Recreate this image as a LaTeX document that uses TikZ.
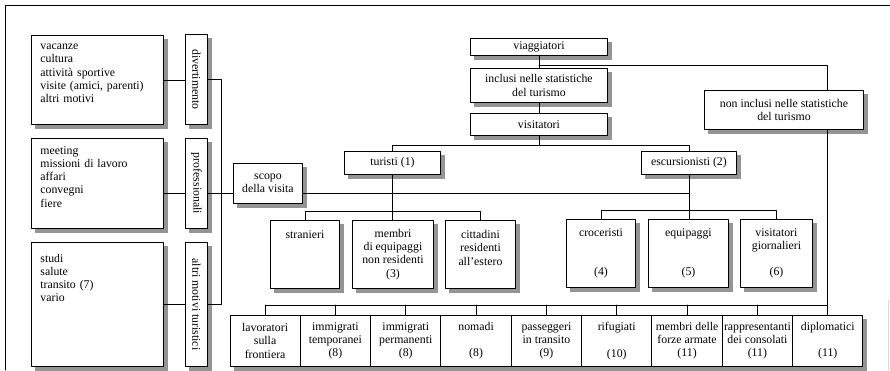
\documentclass[tikz,border=0pt]{standalone}
\usepackage{fontspec}
\setmainfont{Liberation Serif}
\usetikzlibrary{backgrounds}

\begin{document}
\begin{tikzpicture}[x=1pt, y=-1pt, line join=round, line cap=round,
	font=\fontsize{11.8}{13.2}\selectfont,
	box/.style={draw, line width=0.9pt, fill=white, inner sep=0pt, align=center},
	motivo/.style={box, align=left, text width=114pt, inner xsep=9pt, anchor=north west},
	verticale/.style={box, minimum width=22, anchor=north west},
	figlio/.style={box, minimum height=68, anchor=north west},
	link/.style={line width=0.6pt},
	ombra/.style={fill=black!42}]
	\useasboundingbox (0,0) rectangle (890,370);
	\draw[line width=0.8pt] (890,5) -- (5,5) -- (5,370);
	\draw[gray!30] (888,300) -- (888,370);
	
	% motivi della visita
	\node[motivo, minimum height=89] (mdiv) at (31,35) {vacanze\\cultura\\attività sportive\\visite (amici, parenti)\\altri motivi\\~};
	\node[motivo, minimum height=90] (mprof) at (31,138) {meeting\\missioni di lavoro\\affari\\convegni\\fiere\\~};
	\node[motivo, minimum height=124] (maltri) at (31,242) {studi\\salute\\transito (7)\\vario\\~\\~\\~\\~};
	\node[verticale, minimum height=90] (div) at (185,34) {\rotatebox{-90}{divertimento}};
	\node[verticale, minimum height=90] (prof) at (185,138) {\rotatebox{-90}{professionali}};
	\node[verticale, minimum height=124] (altri) at (185,242) {\rotatebox{-90}{altri motivi turistici}};
	\node[box, minimum width=69, minimum height=40, anchor=north west] (scopo) at (233,163) {scopo\\della visita};
	
	% classificazione
	\node[box, minimum width=137, minimum height=17, anchor=north west] (viagg) at (470,38) {viaggiatori};
	\node[box, minimum width=137, minimum height=34, anchor=north west] (incl) at (470,68) {inclusi nelle statistiche\\del turismo};
	\node[box, minimum width=137, minimum height=22, anchor=north west] (visit) at (470,113) {visitatori};
	\node[box, minimum width=159, minimum height=39, anchor=north west] (noninc) at (704,90) {non inclusi nelle statistiche\\del turismo};
	\node[box, minimum width=96, minimum height=23, anchor=north west] (tur) at (344,151) {turisti (1)};
	\node[box, minimum width=95, minimum height=23, anchor=north west] (esc) at (641,151) {escursionisti (2)};
	
	\node[figlio, minimum width=69] (stra) at (270,220) {stranieri\\~\\~\\~};
	\node[figlio, minimum width=81] (memb) at (352,220) {membri\\di equipaggi\\non residenti\\(3)};
	\node[figlio, minimum width=70] (citt) at (445,220) {cittadini\\residenti\\all’estero\\~};
	\node[figlio, minimum width=69] (croc) at (566,219) {croceristi\\~\\~\\(4)};
	\node[figlio, minimum width=80] (equi) at (648,219) {equipaggi\\~\\~\\(5)};
	\node[figlio, minimum width=72] (vgio) at (740,219) {visitatori\\giornalieri\\~\\(6)};
	
	\foreach \nome/\testo [count=\i from 0] in {lavor/{lavoratori\\sulla\\frontiera}, immtemp/{immigrati\\temporanei\\(8)}, immperm/{immigrati\\permanenti\\(8)}, nomadi/{nomadi\\~\\(8)}, pass/{passeggeri\\in transito\\(9)}, rifug/{rifugiati\\~\\(10)}, forze/{membri delle\\forze armate\\(11)}, cons/{rappresentanti\\dei consolati\\(11)}, diplo/{diplomatici\\~\\(11)}}{
		\node[box, minimum width=70.3, minimum height=51, anchor=north west] (\nome) at ({229.5+70.33*\i},315) {\testo};
	}
	
	% ombre
	\begin{scope}[on background layer]
		\foreach \nome in {mdiv,mprof,maltri,div,prof,altri,scopo,viagg,incl,visit,noninc,tur,esc,stra,memb,citt,croc,equi,vgio,lavor,immtemp,immperm,nomadi,pass,rifug,forze,cons,diplo}
			\fill[ombra] ([shift={(4pt,-4pt)}]\nome.south west) rectangle ([shift={(4pt,-4pt)}]\nome.north east);
	\end{scope}
	
	% collegamenti a sinistra
	\draw[link] (mdiv.east) -- (mdiv.east -| div.west);
	\draw[link] (maltri.east) -- (maltri.east -| altri.west);
	\draw[link] (div.east) -- ++(13,0) |- (altri.east);
	\path ([yshift=-10pt]mprof.east) coordinate (mp);
	\path ([yshift=-10pt]scopo.east) coordinate (sc);
	\draw[link] (mp) -- (mp -| prof.west);
	\draw[link] (sc -| prof.east) -- (sc -| scopo.west);
	
	% collegamenti dell'albero
	\draw[link] (viagg.south) -- (incl.north);
	\draw[link] (incl.south) -- (visit.north);
	\path (viagg.south) ++(0,9) coordinate (ramo);
	\draw[link] (ramo) -| (noninc.north -| diplo.north);
	\draw[link] (visit.south) -- ++(0,9) coordinate (rvis);
	\draw[link] (tur.north) |- (rvis) -| (esc.north);
	\draw[link] (tur.south) -- ++(0,36) coordinate (rtur);
	\draw[link] (stra.north) |- (rtur) -| (citt.north);
	\draw[link] (rtur) -- (rtur |- memb.north);
	\draw[link] (esc.south) -- ++(0,35) coordinate (resc);
	\draw[link] (croc.north) |- (resc) -| (vgio.north);
	\draw[link] (resc) -- (resc |- equi.north);
	\draw[link] (sc) -- (sc -| esc.south);
	
	\draw[link] ([yshift=10pt]lavor.north) -- ([yshift=10pt]diplo.north);
	\draw[link] (noninc.south -| diplo.north) -- ([yshift=10pt]diplo.north);
	\foreach \nome in {lavor,immtemp,immperm,nomadi,pass,rifug,forze,cons,diplo}
		\draw[link] (\nome.north) -- ++(0,-10);
\end{tikzpicture}
\end{document}
